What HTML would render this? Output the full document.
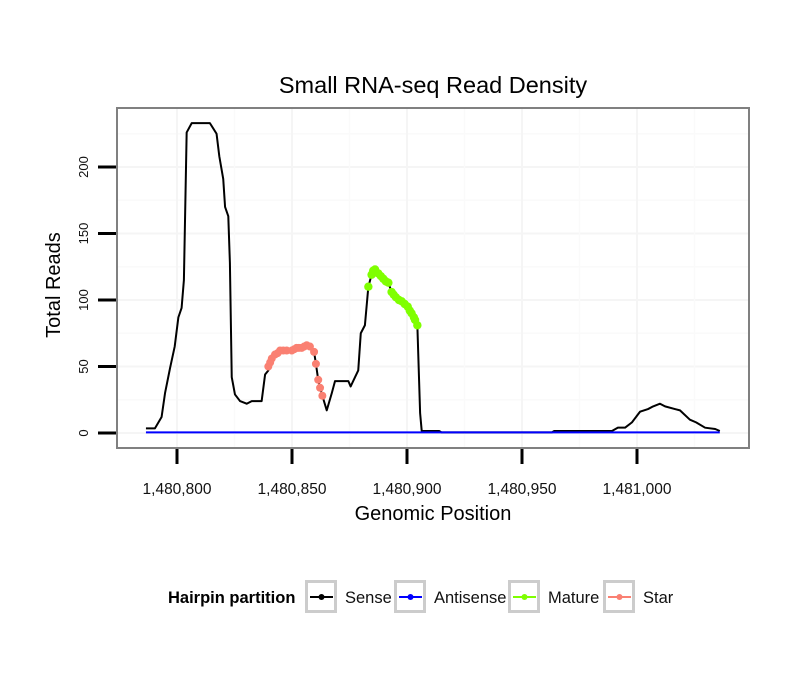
<!DOCTYPE html>
<html><head><meta charset="utf-8"><style>
body{margin:0;background:#fff;}
svg{display:block;font-family:"Liberation Sans",sans-serif;}
</style></head><body>
<svg id="chart" width="810" height="690">
<text x="433" y="93" font-size="23.5" text-anchor="middle">Small RNA-seq Read Density</text>
<rect x="117" y="108" width="632" height="340" fill="#fff" stroke="#808080" stroke-width="2"/>
<g id="grid"></g>
<g id="series"></g>
<g id="axes"></g>
<text x="433" y="520" font-size="20" text-anchor="middle">Genomic Position</text>
<text transform="translate(60,285) rotate(-90)" font-size="20" text-anchor="middle">Total Reads</text>
<g>
<text x="168" y="603" font-size="16.5" font-weight="bold">Hairpin partition</text>
<g id="legend"></g>
</g>
</svg>
<script>
const xTicks=[1480800,1480850,1480900,1480950,1481000];
const xTickLabels=["1,480,800","1,480,850","1,480,900","1,480,950","1,481,000"];
const yTicks=[0,50,100,150,200];
const senseX=[1480786.5,1480790.4,1480793.3,1480794.8,1480797,1480799,1480800.6,1480802,1480803,1480804.2,1480806.4,1480814.3,1480817.2,1480818.4,1480820.1,1480820.9,1480822.3,1480823,1480823.8,1480825.2,1480827.4,1480830.3,1480832.5,1480836.8,1480838.3,1480839.7,1480841.2,1480842.6,1480844.8,1480847.7,1480849.9,1480852,1480854.2,1480856.4,1480857.8,1480859.6,1480860.4,1480861.4,1480862.2,1480863.2,1480865.1,1480867.3,1480868.7,1480874.5,1480875.5,1480877.4,1480878.8,1480879.9,1480881.7,1480883.2,1480884.6,1480886.1,1480887.5,1480889.7,1480891.9,1480893.3,1480895.2,1480897.7,1480900.3,1480902,1480903.5,1480904.5,1480905.7,1480906.4,1480914,1480915,1480963,1480964,1480989.1,1480991.7,1480994.8,1480997.8,1481001.3,1481004.8,1481007,1481010,1481012.2,1481016.5,1481018.7,1481023,1481025.7,1481029.6,1481034,1481036];
const senseY=[3.5,3.5,12,30,49,65,87,94,115,226,233,233,225,208,191,170,163,128,42,29,24,22,24,24,44,47,56,59,62,62,62,64,64,66,65,61,52,40,34,28,17,30,39,39,35,42,47,75,81,110,119,123,120,116,113,106,102,99,95,90,85,81,15,1.5,1.5,0.5,0.5,1.5,1.5,4,4,8,16,18,20,22,20,18,17,10,8,4,3,1.5,0.5];
const antiX=[1480786.5,1481036];
const antiY=[0.5,0.5];
const starX=[1480839.7,1480840.5,1480841.2,1480842.6,1480843.7,1480844.8,1480846.2,1480847.7,1480849.9,1480851,1480852,1480853,1480854.2,1480855.3,1480856.4,1480857.8,1480859.6,1480860.4,1480861.4,1480862.2,1480863.2];
const starY=[50,53,56,59,60,62,62,62,62,63,64,64,64,65,66,65,61,52,40,34,28];
const matureX=[1480883.2,1480884.6,1480885.3,1480886.1,1480887.5,1480888.6,1480889.7,1480890.8,1480891.9,1480893.3,1480894.2,1480895.2,1480896.5,1480897.7,1480899,1480900.3,1480901.2,1480902,1480903,1480903.5,1480904.5];
const matureY=[110,119,122,123,120,118,116,114,113,106,104,102,100,99,97,95,92,90,87,85,81];
const NS="http://www.w3.org/2000/svg";
function X(v){return 177+(v-1480800)*2.3;}
function Y(v){return 433-v*1.33;}
function mk(tag,attrs,parent){const e=document.createElementNS(NS,tag);for(const k in attrs)e.setAttribute(k,attrs[k]);parent.appendChild(e);return e;}
const grid=document.getElementById('grid'),ser=document.getElementById('series'),ax=document.getElementById('axes'),leg=document.getElementById('legend');
yTicks.forEach((t,i)=>{
 let g=mk('line',{x1:118,x2:748,y1:Y(t),y2:Y(t),stroke:'#f5f5f5','stroke-width':2},grid);
 
 
 let m=mk('line',{x1:118,x2:748,y1:Y(t+25),y2:Y(t+25),stroke:'#fafafa','stroke-width':1.5},grid);
 
 
});
xTicks.forEach((t,i)=>{
 let g=mk('line',{x1:X(t),x2:X(t),y1:109,y2:447,stroke:'#f5f5f5','stroke-width':2},grid);
 
 
 let m=mk('line',{x1:X(t+25),x2:X(t+25),y1:109,y2:447,stroke:'#fafafa','stroke-width':1.5},grid);
 
 
});
yTicks.forEach((t,i)=>{
 let l=mk('line',{x1:98,x2:116,y1:Y(t),y2:Y(t),stroke:'#000','stroke-width':3},ax);
 
 
 let tx=mk('text',{transform:`translate(88,${Y(t)}) rotate(-90)`,'font-size':13,'text-anchor':'middle',fill:'#111'},ax);
 tx.textContent=String(t);
 
 
});
xTicks.forEach((t,i)=>{
 let l=mk('line',{x1:X(t),x2:X(t),y1:449,y2:464,stroke:'#000','stroke-width':3},ax);
 
 
 let tx=mk('text',{x:X(t),y:494,'font-size':15.5,'text-anchor':'middle',fill:'#111'},ax);
 tx.textContent=xTickLabels[i];
 
 
});
function pts(xs,ys){return xs.map((v,i)=>X(v)+','+Y(ys[i])).join(' ');}
let sl=mk('polyline',{points:pts(senseX,senseY),fill:'none',stroke:'#000','stroke-width':2,'stroke-linejoin':'round'},ser);


let al=mk('polyline',{points:pts(antiX,antiY),fill:'none',stroke:'#0000ff','stroke-width':2},ser);


starX.forEach((v,i)=>{let c=mk('circle',{cx:X(v),cy:Y(starY[i]),r:4,fill:'#fa8072'},ser);
 
 });
matureX.forEach((v,i)=>{let c=mk('circle',{cx:X(v),cy:Y(matureY[i]),r:4.2,fill:'#7fff00'},ser);
 
 });
const legNames=["Sense","Antisense","Mature","Star"];
const legColors=["#000","#0000ff","#7fff00","#fa8072"];
const legBox=[305,394,508,603];
legNames.forEach((n,i)=>{
 let g=mk('g',{},leg);
 
 
 mk('rect',{x:legBox[i]+1.5,y:581.5,width:29,height:30,fill:'#fff',stroke:'#ccc','stroke-width':3},g);
 mk('line',{x1:legBox[i]+5,x2:legBox[i]+28,y1:597,y2:597,stroke:legColors[i],'stroke-width':2},g);
 mk('circle',{cx:legBox[i]+16.5,cy:597,r:3,fill:legColors[i]},g);
 let t=mk('text',{x:legBox[i]+40,y:603,'font-size':16.5,fill:'#111'},g);
 t.textContent=n;
});
</script>
</body></html>
